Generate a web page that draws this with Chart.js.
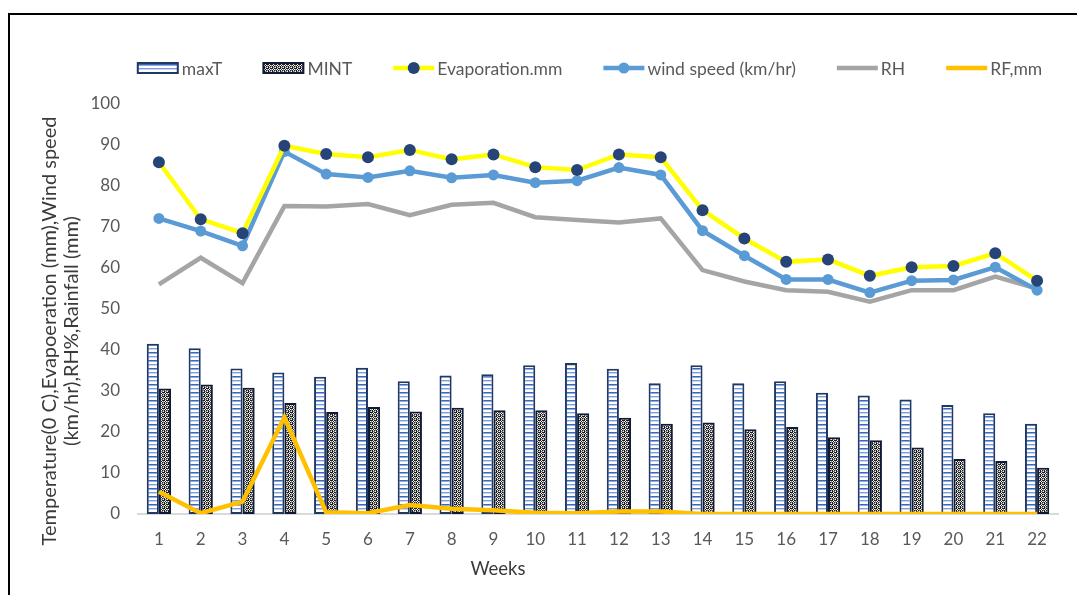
<!DOCTYPE html>
<html>
<head>
<meta charset="utf-8">
<title>Weekly weather</title>
<script src="https://cdn.jsdelivr.net/npm/chart.js@4.4.1/dist/chart.umd.min.js"></script>
<style>
  html, body { margin: 0; padding: 0; background: #fff; overflow: hidden; }
  #wrap { position: relative; width: 1077px; height: 595px; }
  #frame { position: absolute; left: 8px; top: 13px; right: -10px; bottom: -10px;
           border-top: 2px solid #000; border-left: 2px solid #000; pointer-events: none; }
  canvas { display: block; }
</style>
</head>
<body>
<div id="wrap">
  <canvas id="c" width="1077" height="595"></canvas>
  <div id="frame"></div>
</div>
<script>
// Weekly observations
const weeks = ['1','2','3','4','5','6','7','8','9','10','11','12','13','14','15','16','17','18','19','20','21','22'];
const maxT = [41.5, 40.4, 35.5, 34.5, 33.5, 35.7, 32.4, 33.8, 34.1, 36.3, 36.8, 35.4, 31.9, 36.3, 31.9, 32.4, 29.6, 28.9, 27.9, 26.6, 24.6, 22.0];
const minT = [30.6, 31.6, 30.8, 27.1, 24.9, 26.1, 25.0, 25.9, 25.3, 25.3, 24.6, 23.5, 22.0, 22.3, 20.7, 21.2, 18.7, 18.0, 16.2, 13.4, 12.9, 11.3];
const evaporation = [85.8, 71.9, 68.5, 89.8, 87.8, 87.0, 88.8, 86.5, 87.7, 84.6, 83.9, 87.7, 87.0, 74.1, 67.2, 61.5, 62.1, 58.1, 60.2, 60.5, 63.6, 56.9];
const windSpeed = [72.1, 69.0, 65.4, 88.4, 82.9, 82.1, 83.7, 82.0, 82.7, 80.8, 81.3, 84.5, 82.7, 69.1, 63.0, 57.2, 57.2, 54.0, 56.9, 57.1, 60.2, 54.6];
const rh = [56.0, 62.5, 56.3, 75.1, 75.0, 75.6, 72.9, 75.4, 75.9, 72.4, 71.7, 71.1, 72.1, 59.5, 56.7, 54.6, 54.2, 51.8, 54.6, 54.6, 57.9, 55.0];
const rainfall = [5.4, 0.2, 3.0, 23.6, 0.4, 0.2, 2.2, 1.3, 0.9, 0.3, 0.2, 0.6, 0.6, 0, 0, 0, 0, 0, 0, 0, 0, 0];
const yTickValues = [0, 10, 20, 30, 40, 50, 60, 70, 80, 90, 100];
const yTitle = ['Temperature(0 C),Evapoeration (mm),Wind speed', '(km/hr),RH%,Rainfall (mm)'];
const xTitle = 'Weeks';

const FONT = 'Lato';
const TEXT = '#595959';
Chart.defaults.font.family = FONT;

// Horizontal stripe fill for the max temperature bars
function stripePattern() {
  const c = document.createElement('canvas');
  c.width = 4; c.height = 8;
  const g = c.getContext('2d');
  g.fillStyle = '#ffffff'; g.fillRect(0, 0, 4, 8);
  g.fillStyle = '#3866C2'; g.fillRect(0, 0, 4, 1);
  g.fillStyle = '#8FAADD'; g.fillRect(0, 1, 4, 1);
  g.fillStyle = '#7F9DD6'; g.fillRect(0, 4, 4, 1);
  g.fillStyle = '#C9D7F0'; g.fillRect(0, 5, 4, 1);
  return g.createPattern(c, 'repeat');
}
// Black-and-white lattice fill for the min temperature bars
function weavePattern() {
  const c = document.createElement('canvas');
  c.width = 4; c.height = 4;
  const g = c.getContext('2d');
  g.fillStyle = '#1a1a1a'; g.fillRect(0, 0, 4, 4);
  g.fillStyle = '#f4f4f4';
  [[1,0],[0,1],[2,1],[1,2],[3,3]].forEach(([x, y]) => g.fillRect(x, y, 1, 1));
  g.fillStyle = '#8a8a8a';
  [[3,1],[1,3],[3,2],[2,3]].forEach(([x, y]) => g.fillRect(x, y, 1, 1));
  return g.createPattern(c, 'repeat');
}

const stripe = stripePattern();
const weave = weavePattern();

// Rotated two-line y title and the x title
const axisTitles = {
  id: 'axisTitles',
  afterDraw(chart) {
    const { ctx, chartArea: a } = chart;
    ctx.save();
    ctx.fillStyle = '#3a3a3a';
    ctx.font = '20px ' + FONT;
    ctx.textAlign = 'center';
    ctx.textBaseline = 'middle';
    ctx.save();
    ctx.translate(a.left - 88, (a.top + a.bottom) / 2 + 22);
    ctx.rotate(-Math.PI / 2);
    ctx.fillText(yTitle[0], 0, 0);
    ctx.fillText(yTitle[1], 0, 22);
    ctx.restore();
    ctx.font = '18.5px ' + FONT;
    ctx.fillText(xTitle, (a.left + a.right) / 2 - 100, a.bottom + 55);
    ctx.restore();
  }
};

// Single-row legend above the plot
const legendRow = {
  id: 'legendRow',
  afterDraw(chart) {
    const { ctx, chartArea: a } = chart;
    ctx.save();
    ctx.font = '17.5px ' + FONT;
    const symW = 41, gapText = 3, gapItem = 41;
    const items = chart.data.datasets.map(ds => ({ ds, w: symW + gapText + ctx.measureText(ds.label).width }));
    const total = items.reduce((s, it) => s + it.w, 0) + gapItem * (items.length - 1);
    let x = (a.left + a.right) / 2 - 8 - total / 2;
    const y = a.top - 36;
    items.forEach(({ ds, w }) => {
      if (ds.type === 'bar') {
        ctx.fillStyle = ds.backgroundColor;
        ctx.fillRect(x, y - 5, symW - 1, 10);
        ctx.lineWidth = 2;
        ctx.strokeStyle = ds.borderColor;
        ctx.strokeRect(x, y - 5, symW - 1, 10);
      } else {
        ctx.lineWidth = ds.borderWidth;
        ctx.strokeStyle = ds.borderColor;
        ctx.lineCap = 'butt';
        ctx.beginPath();
        ctx.moveTo(x, y);
        ctx.lineTo(x + symW, y);
        ctx.stroke();
        if (ds.pointRadius > 0) {
          ctx.fillStyle = ds.pointBackgroundColor;
          ctx.beginPath();
          ctx.arc(x + symW / 2, y, ds.pointRadius, 0, Math.PI * 2);
          ctx.fill();
        }
      }
      ctx.fillStyle = TEXT;
      ctx.textAlign = 'left';
      ctx.textBaseline = 'middle';
      ctx.fillText(ds.label, x + symW + gapText, y + 1);
      x += w + gapItem;
    });
    ctx.restore();
  }
};

new Chart(document.getElementById('c'), {
  type: 'bar',
  data: {
    labels: weeks,
    datasets: [
      { type: 'bar', label: 'maxT', data: maxT, backgroundColor: stripe, borderColor: '#1F3864',
        borderWidth: 2, borderSkipped: false, categoryPercentage: 0.58, barPercentage: 1, order: 10 },
      { type: 'bar', label: 'MINT', data: minT, backgroundColor: weave, borderColor: '#0E1A36',
        borderWidth: 2, borderSkipped: false, categoryPercentage: 0.58, barPercentage: 1, order: 10 },
      { type: 'line', label: 'Evaporation.mm', data: evaporation, borderColor: '#FFFF00', borderWidth: 4.5,
        pointRadius: 6, pointBackgroundColor: '#264478', pointBorderColor: '#264478', pointBorderWidth: 0,
        tension: 0, order: 2 },
      { type: 'line', label: 'wind speed (km/hr)', data: windSpeed, borderColor: '#5B9BD5', borderWidth: 4.5,
        pointRadius: 5.5, pointBackgroundColor: '#5B9BD5', pointBorderColor: '#5B9BD5', pointBorderWidth: 0,
        tension: 0, order: 3 },
      { type: 'line', label: 'RH', data: rh, borderColor: '#A5A5A5', borderWidth: 4.5, pointRadius: 0,
        tension: 0, order: 4 },
      { type: 'line', label: 'RF,mm', data: rainfall, borderColor: '#FFC000', borderWidth: 4.5, pointRadius: 0,
        tension: 0, order: 1 }
    ]
  },
  options: {
    responsive: false,
    animation: false,
    events: [],
    layout: { padding: { left: 0, right: 19, top: 104, bottom: 0 } },
    plugins: { legend: { display: false }, tooltip: { enabled: false } },
    scales: {
      x: {
        grid: { display: false, drawTicks: false },
        border: { display: true, color: '#D9D9D9', width: 2 },
        ticks: { font: { family: FONT, size: 17 }, color: TEXT, padding: 15, maxRotation: 0 },
        afterFit: s => { s.height = 81; }
      },
      y: {
        min: 0, max: 100,
        grid: { display: false, drawTicks: false },
        border: { display: false },
        ticks: { font: { family: FONT, size: 17 }, color: TEXT, padding: 18 },
        afterBuildTicks: s => { s.ticks = yTickValues.map(v => ({ value: v })); },
        afterFit: s => { s.width = 138; }
      }
    }
  },
  plugins: [axisTitles, legendRow]
});
</script>
</body>
</html>
